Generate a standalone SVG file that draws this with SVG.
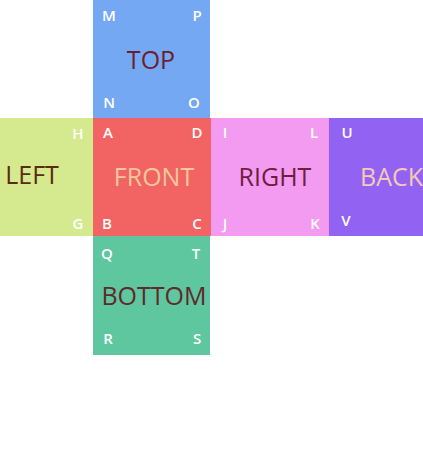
<svg xmlns="http://www.w3.org/2000/svg" width="423" height="474" viewBox="0 0 423 474">
<style>
.face{stroke:none}
.big{font-family:"Open Sans","Liberation Sans",sans-serif;font-size:25px}
.lbl{font-family:"Open Sans","Liberation Sans",sans-serif;font-size:15px;font-weight:600;fill:#ffffff;text-anchor:middle}
</style>
<rect width="423" height="474" fill="#ffffff"/>
<g id="top">
<rect class="face" x="93" y="0" width="117" height="118" fill="#74a8f2"/>
<text class="big" x="151" y="69" text-anchor="middle" fill="#6b1f33">TOP</text>
<text class="lbl" x="109" y="21">M</text><text class="lbl" x="197" y="21">P</text>
<text class="lbl" x="109" y="108">N</text><text class="lbl" x="194" y="108">O</text>
</g>
<g id="left">
<rect class="face" x="0" y="118" width="93" height="118" fill="#d5e98f"/>
<text class="big" x="32" y="184" text-anchor="middle" fill="#5a2b0c">LEFT</text>
<text class="lbl" x="78" y="139">H</text><text class="lbl" x="78" y="229">G</text>
</g>
<g id="front">
<rect class="face" x="93" y="118" width="118" height="118" fill="#f26363"/>
<text class="big" x="154" y="186" text-anchor="middle" fill="#f6c79a">FRONT</text>
<text class="lbl" x="108" y="138">A</text><text class="lbl" x="197" y="138">D</text>
<text class="lbl" x="107" y="229">B</text><text class="lbl" x="197" y="229">C</text>
</g>
<g id="right">
<rect class="face" x="211" y="118" width="118" height="118" fill="#f39af1"/>
<text class="big" x="275" y="186" text-anchor="middle" fill="#6d1f3d">RIGHT</text>
<text class="lbl" x="225" y="138">I</text><text class="lbl" x="314" y="138">L</text>
<text class="lbl" x="225" y="229">J</text><text class="lbl" x="315" y="229">K</text>
</g>
<g id="back">
<rect class="face" x="329" y="118" width="94" height="118" fill="#9263f2"/>
<text class="big" x="360" y="186" fill="#f4c9b6">BACK</text>
<text class="lbl" x="347" y="138">U</text><text class="lbl" x="346" y="226">V</text>
</g>
<g id="bottom">
<rect class="face" x="93" y="236" width="117" height="119" fill="#5ec79f"/>
<text class="big" x="154" y="305" text-anchor="middle" fill="#5e2a2c">BOTTOM</text>
<text class="lbl" x="107" y="259">Q</text><text class="lbl" x="196" y="259">T</text>
<text class="lbl" x="108" y="344">R</text><text class="lbl" x="197" y="344">S</text>
</g>
<g id="connectors"></g>
</svg>
